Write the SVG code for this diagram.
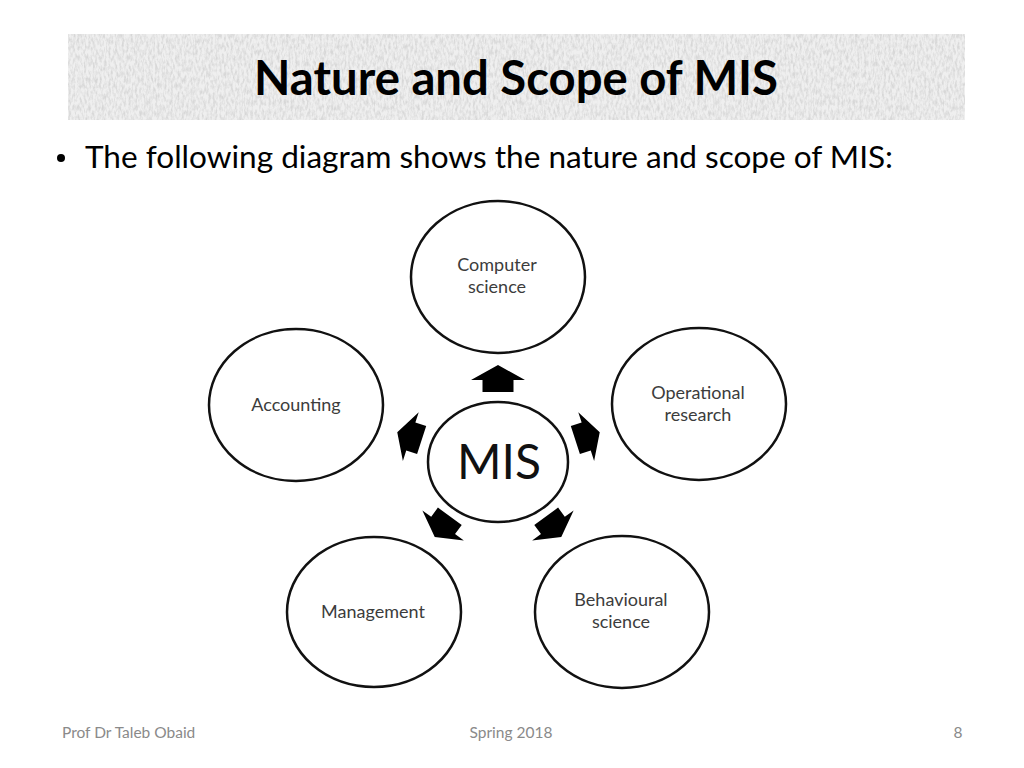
<svg xmlns="http://www.w3.org/2000/svg" width="1024" height="768" viewBox="0 0 1024 768">
<style>
.node{fill:#fff;stroke:#111;stroke-width:2.5}
.lbl{font-family:Lato,"Open Sans","Liberation Sans",sans-serif;font-size:18px;fill:#3c3c3c;text-anchor:middle}
.foot{font-family:Lato,"Open Sans","Liberation Sans",sans-serif;font-size:15.5px;fill:#8a8a8a}
.arr{fill:#000}
</style>
<defs>
<filter id="grain" x="0" y="0" width="100%" height="100%">
<feTurbulence type="fractalNoise" baseFrequency="0.45 0.18" numOctaves="3" seed="4" result="n"/>
<feColorMatrix type="matrix" values="0 0 0 0 0.68  0 0 0 0 0.68  0 0 0 0 0.68  0 0 0 -2.4 1.5" in="n" result="g"/>
<feComposite in="g" in2="SourceGraphic" operator="in"/>
</filter>
<path id="arrow" d="M0,-13 L27,2 L15.5,2 L15.5,14 L-15.5,14 L-15.5,2 L-27,2 Z"/>
</defs>
<rect width="1024" height="768" fill="#fff"/>
<g id="banner">
<rect x="68" y="34" width="897" height="86" fill="#efefef"/>
<rect x="68" y="34" width="897" height="86" fill="#efefef" filter="url(#grain)"/>
<text x="254" y="95" font-family="Lato,'Open Sans','Liberation Sans',sans-serif" font-weight="bold" font-size="47" textLength="524" lengthAdjust="spacingAndGlyphs" fill="#000">Nature and Scope of MIS</text>
</g>
<g id="bullet">
<circle cx="61" cy="158" r="4" fill="#000"/>
<text x="85" y="168" font-family="Lato,'Open Sans','Liberation Sans',sans-serif" font-size="30" textLength="808" lengthAdjust="spacingAndGlyphs" fill="#000">The following diagram shows the nature and scope of MIS:</text>
</g>
<g id="connectors">
<use href="#arrow" class="arr" transform="translate(498,378)"/>
<use href="#arrow" class="arr" transform="translate(409,436) rotate(-72) scale(0.95)"/>
<use href="#arrow" class="arr" transform="translate(588,436) rotate(72) scale(0.95)"/>
<use href="#arrow" class="arr" transform="translate(442,527) rotate(-144) scale(0.95)"/>
<use href="#arrow" class="arr" transform="translate(554,527) rotate(144) scale(0.95)"/>
</g>
<g id="mis">
<ellipse class="node" cx="498" cy="462" rx="70" ry="60"/>
<text x="499" y="479" font-family="Lato,'Open Sans','Liberation Sans',sans-serif" font-size="48" fill="#111" text-anchor="middle">MIS</text>
</g>
<g id="computer-science">
<ellipse class="node" cx="498" cy="277" rx="87" ry="76"/>
<text class="lbl" x="497" y="271">Computer</text>
<text class="lbl" x="497" y="293">science</text>
</g>
<g id="operational-research">
<ellipse class="node" cx="699" cy="404" rx="87" ry="76"/>
<text class="lbl" x="698" y="399">Operational</text>
<text class="lbl" x="698" y="421">research</text>
</g>
<g id="accounting">
<ellipse class="node" cx="296" cy="405" rx="87" ry="76"/>
<text class="lbl" x="296" y="411" font-size="19">Accounting</text>
</g>
<g id="management">
<ellipse class="node" cx="374" cy="612" rx="87" ry="75"/>
<text class="lbl" x="373" y="618" font-size="19">Management</text>
</g>
<g id="behavioural-science">
<ellipse class="node" cx="622" cy="612" rx="87" ry="76"/>
<text class="lbl" x="621" y="606">Behavioural</text>
<text class="lbl" x="621" y="628">science</text>
</g>
<g id="footer">
<text class="foot" x="62" y="738">Prof Dr Taleb Obaid</text>
<text class="foot" x="511" y="738" text-anchor="middle">Spring 2018</text>
<text class="foot" x="958" y="738" text-anchor="middle">8</text>
</g>
</svg>
